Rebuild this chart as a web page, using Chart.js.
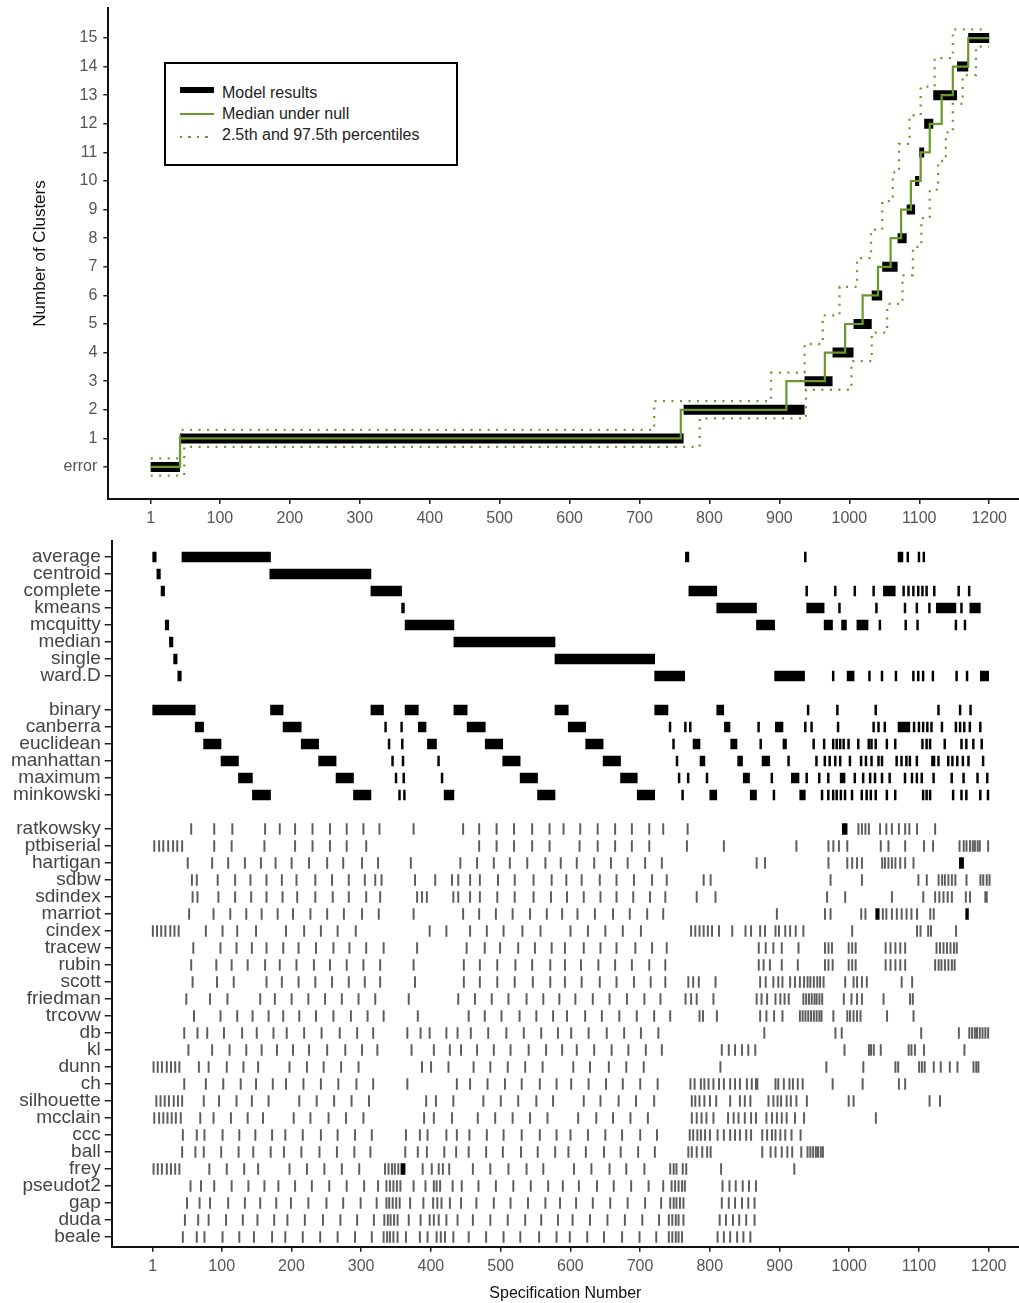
<!DOCTYPE html>
<html>
<head>
<meta charset="utf-8">
<script src="https://cdn.jsdelivr.net/npm/chart.js@4.4.1/dist/chart.umd.min.js"></script>
<style>
  body { margin: 0; background: #fff; width: 1019px; height: 1303px; position: relative; overflow: hidden;
         font-family: "Liberation Sans", Arial, sans-serif; }
  canvas { position: absolute; left: 0; }
  #topChart { top: 0; }
  #bottomChart { top: 530px; }
  #legend { position: absolute; left: 164px; top: 62px; width: 290px; height: 100px; border: 2px solid #000; background: #fff; }
  .item { position: absolute; left: 14px; height: 20px; width: 270px; font-size: 16px; line-height: 20px; color: #222; }
  .item .t { position: absolute; left: 42px; white-space: nowrap; }
  .sw { position: absolute; left: 0; width: 34px; }
</style>
</head>
<body>
<canvas id="topChart" width="1019" height="530"></canvas>
<canvas id="bottomChart" width="1019" height="773"></canvas>
<div id="legend">
  <div class="item" style="top:19px"><div class="sw" style="top:4px;height:6px;background:#000"></div><span class="t">Model results</span></div>
  <div class="item" style="top:40px"><div class="sw" style="top:9px;height:2px;background:#6a9a2c"></div><span class="t">Median under null</span></div>
  <div class="item" style="top:61px"><div class="sw" style="top:11px;height:2px;background:repeating-linear-gradient(to right,#6a9a2c 0 2px,transparent 2px 8.5px)"></div><span class="t">2.5th and 97.5th percentiles</span></div>
</div>
<script>
const FONT = '"Liberation Sans", Arial, sans-serif';
const GREEN = '#6a9a2c';

// ---- axis ticks
const specTicks = [1, 100, 200, 300, 400, 500, 600, 700, 800, 900, 1000, 1100, 1200];
const clusterLevels = [0, 1, 2, 3, 4, 5, 6, 7, 8, 9, 10, 11, 12, 13, 14, 15];
const levelLabels = ['error', '1', '2', '3', '4', '5', '6', '7', '8', '9', '10', '11', '12', '13', '14', '15'];

// ---- top panel: where each cluster level starts / ends (specification number)
const modelFrom   = [1, 43, 763, 936, 976, 1006, 1032, 1047, 1069, 1082, 1094, 1100, 1107, 1120, 1154, 1170];
const modelTo     = [43, 763, 936, 976, 1006, 1032, 1047, 1069, 1082, 1094, 1100, 1107, 1120, 1154, 1170, 1200];
const medianSteps = [1, 43, 759, 910, 965, 994, 1019, 1041, 1059, 1074, 1088, 1102, 1115, 1132, 1148, 1170];
const upperSteps  = [1, 43, 721, 888, 936, 962, 986, 1011, 1031, 1047, 1062, 1071, 1086, 1102, 1122, 1148];
const lowerSteps  = [1, 49, 786, 938, 1003, 1032, 1054, 1076, 1091, 1103, 1115, 1127, 1138, 1148, 1162, 1181];
const medianEnd = 1200, upperEnd = 1195, lowerEnd = 1200;

// ---- bottom panel rows (numbers = single specification, [a, b] = run of specifications)
const methodNames = ['average', 'centroid', 'complete', 'kmeans', 'mcquitty', 'median', 'single', 'ward.D'];
const average  = [[1,6],[43,170],[765,770],937,[1070,1077],1084,1100,1107];
const centroid = [[7,12],[169,314]];
const complete = [[13,18],[314,358],[770,810],939,980,1008,1035,[1049,1066],1078,1085,1092,1099,1105,1111,1122,1157,1172];
const kmeans   = [[358,362],[810,867],[939,964],986,1039,1080,1097,1115,[1125,1153],1161,[1173,1188]];
const mcquitty = [[19,24],[363,433],[867,893],[964,976],[989,996],[1011,1027],1044,1081,1098,1153,1166];
const median   = [[25,30],[433,578]];
const single   = [[31,36],[578,721]];
const wardD    = [[37,42],[721,764],[893,936],977,[997,1007],1029,1047,1067,1092,1099,1106,1120,1154,1169,[1188,1200]];

const distanceNames = ['binary', 'canberra', 'euclidean', 'manhattan', 'maximum', 'minkowski'];
const binary    = [[1,62],[170,188],[314,332],[363,382],[433,452],[578,597],[721,740],[810,820],941,983,1038,1128,1159,1174];
const canberra  = [[62,74],[188,214],335,358,[382,393],[452,478],[597,622],743,765,772,[821,829],870,[894,905],937,946,984,1035,1042,1051,[1070,1087],1093,1100,1106,1112,1118,1133,1153,1159,1165,1173,1188];
const euclidean = [[74,99],[214,239],340,359,[395,408],[478,503],[622,647],748,[776,786],[830,839],873,[905,910],949,964,977,982,987,992,999,1013,1028,1032,1038,1054,1066,1105,1111,1116,1137,1161,1168,1178,1190];
const manhattan = [[99,124],[239,264],345,360,411,[503,528],[647,672],753,[786,793],[840,847],[875,886],913,953,965,972,980,987,1001,1017,1024,1032,1042,1047,1068,1075,1082,1087,1097,[1118,1123],1128,1142,1148,1155,1163,1171,1192];
const maximum   = [[124,144],[264,289],350,361,416,[528,553],[672,696],756,769,796,[848,857],889,[917,928],939,957,970,[987,994],1008,1020,1030,1037,1047,1058,1080,1090,1097,1104,1121,1147,1164,1184,1198];
const minkowski = [[144,170],[289,314],355,362,[419,433],[553,578],[696,721],761,[800,810],[858,867],892,[929,937],961,970,977,982,988,994,1004,1018,1025,1031,1038,1054,1066,1106,1111,1116,1149,1161,1168,1188,1199];

const indexNames = ['ratkowsky', 'ptbiserial', 'hartigan', 'sdbw', 'sdindex', 'marriot', 'cindex', 'tracew', 'rubin', 'scott',
  'friedman', 'trcovw', 'db', 'kl', 'dunn', 'ch', 'silhouette', 'mcclain', 'ccc', 'ball', 'frey', 'pseudot2', 'gap', 'duda', 'beale'];
const ratkowsky  = [56,89,115,162,183,205,230,255,279,303,326,375,446,469,494,519,545,570,590,614,639,664,688,713,733,768,[990,997],1013,1018,1023,1028,1044,1053,1061,1071,1080,1086,1097,1123];
const ptbiserial = [3,10,16,23,30,36,43,89,114,161,205,230,255,279,307,469,494,519,545,570,613,639,664,688,713,767,820,924,970,977,985,997,1045,1056,1080,1107,1120,1158,1164,1168,1173,1177,1180,1184,1187,1199];
const hartigan   = [51,86,109,133,156,177,200,225,251,274,301,324,371,442,466,490,513,538,564,586,609,634,658,682,707,731,867,879,970,997,1004,1011,1018,1047,1051,1056,1061,1066,1073,1080,1092,[1158,1164]];
const sdbw       = [57,64,94,119,141,164,186,207,234,258,282,305,320,329,377,406,430,439,456,470,496,520,547,573,594,616,642,666,691,717,738,791,801,973,1018,1099,1111,1128,1133,1137,1142,1147,1152,1168,1188,1192,1197,1201];
const sdindex    = [58,65,95,119,142,164,187,208,234,259,282,307,327,380,387,394,432,439,456,470,495,520,547,572,595,619,643,666,690,714,736,781,808,968,994,1061,1106,1123,1129,1135,1141,1147,1167,1173,1195,1197];
const marriot    = [53,88,112,135,157,180,202,227,251,275,301,325,375,446,469,493,517,542,566,588,610,635,661,685,710,733,896,965,973,1017,1023,[1038,1043],1048,1053,1061,1068,1075,1082,1089,1097,1116,1121,[1167,1171]];
const cindex     = [1,7,13,19,26,32,38,77,101,122,149,192,218,242,266,292,398,422,456,480,504,531,557,600,625,650,675,701,773,779,785,791,797,803,813,832,851,859,872,879,894,899,908,915,923,934,1004,1097,1102,1113,1117,1153];
const tracew     = [59,98,121,143,164,188,210,235,260,283,307,332,380,451,477,499,525,549,573,592,619,643,666,693,717,738,870,880,891,903,927,965,970,975,999,1004,1009,1052,1059,1066,1073,1080,1125,1130,1135,1140,1145,1150,1154];
const rubin      = [56,92,114,137,162,183,207,232,255,279,303,327,375,447,470,495,521,545,571,592,615,640,664,688,713,736,870,877,886,903,926,965,970,976,999,1004,1009,1052,1059,1066,1073,1080,1123,1128,1132,1137,1142,1147,1151];
const scott      = [58,93,117,164,186,210,234,258,282,305,327,377,447,470,495,520,546,571,592,616,642,666,691,715,736,769,776,784,808,872,880,891,898,904,915,922,929,935,940,944,949,954,958,963,994,1006,1011,1018,1025,1075,1090];
const friedman   = [49,83,108,155,176,200,224,248,272,296,320,368,439,463,487,511,537,561,584,607,632,656,681,706,729,765,773,781,805,867,874,882,894,901,907,913,934,938,942,946,950,953,957,961,992,1003,1011,1018,1049,1087,1091];
const trcovw     = [60,98,122,144,167,188,211,235,260,285,309,332,381,454,477,501,527,551,575,595,621,645,670,695,720,743,785,790,810,872,881,892,904,929,933,937,941,945,949,953,957,960,977,997,1001,1006,1011,1016,1054,1092];
const db         = [46,65,79,103,129,150,174,193,218,243,269,294,317,366,385,398,422,438,457,482,508,533,558,582,601,626,652,677,701,726,878,980,989,1103,1157,1172,1176,1180,1183,1187,1191,1195,1199];
const kl         = [52,86,111,135,157,179,202,225,251,277,301,323,372,404,427,443,466,490,514,540,565,588,609,634,659,683,708,731,817,827,836,846,855,865,993,1028,1031,1035,1045,1085,1089,1094,1107,1165];
const dunn       = [2,8,14,21,27,33,39,67,81,107,131,152,197,222,246,271,296,387,400,425,461,485,510,535,560,604,628,655,680,705,815,967,1020,1066,1070,1100,1104,1108,1121,1131,1144,1155,1178,1182,1185];
const ch         = [46,77,102,127,149,173,192,217,242,267,293,317,366,437,456,481,506,530,556,580,601,626,651,675,700,725,772,778,787,792,798,805,813,820,829,836,843,853,860,866,868,894,898,906,914,919,926,933,976,1019,1071,1080];
const silhouette = [6,12,18,24,31,37,43,74,96,121,143,167,211,236,261,286,311,393,407,432,475,500,525,551,575,619,643,669,694,720,774,779,785,792,800,809,829,843,850,858,884,891,897,902,910,916,924,939,999,1006,1115,1130];
const mcclain    = [3,10,16,22,28,34,41,69,88,113,137,159,203,227,253,278,303,390,404,430,467,492,517,542,567,611,637,661,686,711,774,781,788,795,805,826,834,841,850,859,866,881,889,896,903,910,922,935,1038];
const ccc        = [44,64,75,101,125,148,172,191,216,242,266,291,315,364,384,395,422,437,455,480,504,530,556,580,600,625,650,674,700,724,771,776,782,787,793,800,811,820,829,836,843,852,859,875,882,889,894,901,908,917,930];
const ball       = [43,62,74,99,124,145,170,189,214,240,265,290,313,363,381,394,419,436,454,479,503,529,553,578,597,622,648,672,697,721,769,774,781,789,796,801,875,887,894,903,911,918,931,940,944,948,952,955,959,962];
const frey       = [2,8,14,21,27,33,39,82,107,132,152,197,222,247,272,297,334,339,344,348,353,[357,363],388,401,411,417,426,460,485,511,537,561,605,630,656,680,706,743,748,752,761,766,816,921];
const pseudot2   = [55,70,89,114,138,161,181,205,229,254,279,304,324,336,341,346,351,356,375,392,404,408,413,431,444,468,493,518,543,568,589,612,638,662,687,712,733,745,750,755,760,764,818,828,837,847,856,866];
const gap        = [50,68,83,109,133,155,178,199,224,250,274,299,322,336,340,345,350,355,370,389,403,409,415,427,443,465,490,514,539,564,585,608,632,657,682,707,730,743,748,752,757,762,817,827,836,846,855,864];
const duda       = [47,66,81,106,130,151,175,194,219,245,270,294,318,333,338,342,347,352,368,385,398,404,411,422,438,460,485,510,535,558,582,603,628,653,678,703,727,741,746,751,755,762,814,823,833,842,852,864];
const beale      = [44,64,75,101,125,146,172,191,216,241,266,291,315,332,337,341,346,352,364,384,395,408,414,420,432,454,479,504,528,555,580,599,624,648,674,699,723,741,746,751,755,760,811,820,829,839,848,858];

const methodMarks   = [average, centroid, complete, kmeans, mcquitty, median, single, wardD];
const distanceMarks = [binary, canberra, euclidean, manhattan, maximum, minkowski];
const indexMarks    = [ratkowsky, ptbiserial, hartigan, sdbw, sdindex, marriot, cindex, tracew, rubin, scott, friedman, trcovw,
                       db, kl, dunn, ch, silhouette, mcclain, ccc, ball, frey, pseudot2, gap, duda, beale];

// ---------------- top chart ----------------
function stepPoints(steps, end, shift) {
    const pts = steps.map((s, i) => ({ x: s, y: clusterLevels[i] + shift }));
    pts.push({ x: end, y: clusterLevels[clusterLevels.length - 1] + shift });
    return pts;
}

const modelPoints = [];
modelFrom.forEach((s, i) => {
    modelPoints.push({ x: s, y: clusterLevels[i] }, { x: modelTo[i], y: clusterLevels[i] }, { x: modelTo[i], y: null });
});

const pctShift = 0.3;   // percentile lines drawn a little above / below the level

function xAxis(minV, maxV, h, withTitle) {
    return {
        type: 'linear', min: minV, max: maxV, offset: false,
        afterBuildTicks: s => { s.ticks = specTicks.map(v => ({ value: v })); },
        afterFit: s => { s.height = h; s.paddingLeft = 0; s.paddingRight = 0; },
        ticks: { callback: v => String(v), autoSkip: false, maxRotation: 0, padding: 5,
                 font: { size: 16, family: FONT }, color: '#555' },
        grid: { drawOnChartArea: false, offset: false, tickLength: 5, tickColor: '#222', lineWidth: 1.5 },
        border: { color: '#111', width: 2 },
        title: { display: withTitle, text: 'Specification Number', color: '#111',
                 font: { size: 16, family: FONT }, padding: { top: 0, bottom: 0 } }
    };
}

new Chart(document.getElementById('topChart'), {
    type: 'line',
    data: {
        datasets: [
            { data: modelPoints, borderColor: '#000', borderWidth: 10, borderCapStyle: 'butt', pointRadius: 0, spanGaps: false, order: 3 },
            { data: stepPoints(upperSteps, upperEnd, pctShift), stepped: 'before', borderColor: GREEN, borderWidth: 2.3, borderDash: [2, 6.5], pointRadius: 0, order: 2 },
            { data: stepPoints(lowerSteps, lowerEnd, -pctShift), stepped: 'before', borderColor: GREEN, borderWidth: 2.3, borderDash: [2, 6.5], pointRadius: 0, order: 2 },
            { data: stepPoints(medianSteps, medianEnd, 0), stepped: 'before', borderColor: GREEN, borderWidth: 2.2, pointRadius: 0, order: 1 }
        ]
    },
    options: {
        responsive: false, animation: false, devicePixelRatio: 1, events: [],
        layout: { padding: { top: 8, left: 0, right: 0, bottom: 0 } },
        plugins: { legend: { display: false }, tooltip: { enabled: false } },
        scales: {
            x: xAxis(-59.6, 1242.6, 31, false),
            y: {
                type: 'linear', min: -1.12, max: 16.05,
                afterBuildTicks: s => { s.ticks = clusterLevels.map(v => ({ value: v })); },
                afterFit: s => { s.width = 108.3; s.paddingTop = 0; s.paddingBottom = 0; },
                ticks: { callback: v => levelLabels[v], autoSkip: false, padding: 6,
                         font: { size: 16, family: FONT }, color: '#555' },
                grid: { drawOnChartArea: false, tickLength: 5, tickColor: '#222', lineWidth: 1.5 },
                border: { color: '#111', width: 2 },
                title: { display: true, text: 'Number of Clusters', color: '#111',
                         font: { size: 17, family: FONT }, padding: { top: 30, bottom: 0 } }
            }
        }
    }
});

// ---------------- bottom chart ----------------
const rowLabel = {};
const groups = [
    { names: methodNames,   marks: methodMarks,   first: 0,  thin: '#000', tall: 10, half: 1.3 },
    { names: distanceNames, marks: distanceMarks, first: 9,  thin: '#000', tall: 10, half: 1.3 },
    { names: indexNames,    marks: indexMarks,    first: 16, thin: '#5c5c5c', tall: 11, half: 0.7 }
];

const datasets = [];
groups.forEach(g => {
    const blocks = [], thins = [];
    g.names.forEach((name, i) => {
        const row = g.first + i;
        rowLabel[row] = name;
        g.marks[i].forEach(m => {
            if (Array.isArray(m)) blocks.push({ x: m, y: row });
            else thins.push({ x: [m - g.half, m + g.half], y: row });
        });
    });
    datasets.push({ data: blocks, backgroundColor: '#000', barThickness: g.tall, grouped: false, minBarLength: 2 });
    datasets.push({ data: thins, backgroundColor: g.thin, barThickness: g.tall, grouped: false, minBarLength: 1.3 });
});
const rowPositions = Object.keys(rowLabel).map(Number);

new Chart(document.getElementById('bottomChart'), {
    type: 'bar',
    data: { datasets: datasets },
    options: {
        indexAxis: 'y',
        responsive: false, animation: false, devicePixelRatio: 1, events: [],
        layout: { padding: { top: 10.7, left: 0, right: 0, bottom: 0 } },
        plugins: { legend: { display: false }, tooltip: { enabled: false } },
        scales: {
            x: xAxis(-57.8, 1243.5, 56.3, true),
            y: {
                type: 'linear', reverse: true, min: -0.96, max: 40.57, offset: false,
                afterBuildTicks: s => { s.ticks = rowPositions.map(v => ({ value: v })); },
                afterFit: s => { s.width = 111.7; s.paddingTop = 0; s.paddingBottom = 0; },
                ticks: { callback: v => rowLabel[v], autoSkip: false, padding: 4,
                         font: { size: 19, family: FONT }, color: '#444' },
                grid: { drawOnChartArea: false, offset: false, tickLength: 7, tickColor: '#222', lineWidth: 1.5 },
                border: { color: '#111', width: 2 }
            }
        }
    }
});
</script>
</body>
</html>
